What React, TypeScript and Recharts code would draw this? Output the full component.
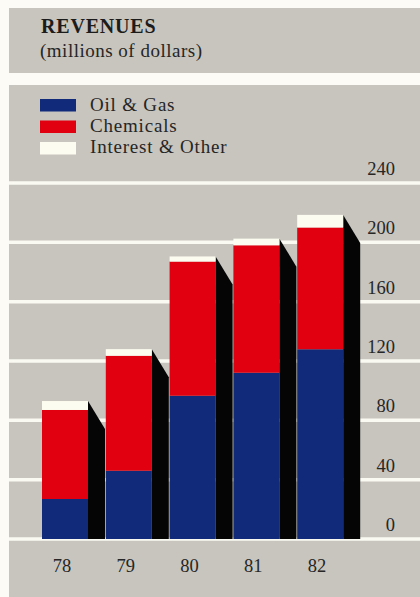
import { BarChart, Bar, XAxis, YAxis, CartesianGrid } from 'recharts'

const years = ['78', '79', '80', '81', '82']
const oilGas = [27, 46, 96.5, 112, 128]
const chemicals = [60, 77.5, 90.5, 86, 82]
const interestOther = [6, 4.5, 3.5, 4.5, 8.5]
const yTicks = [0, 40, 80, 120, 160, 200, 240]

const series = [
  { key: 'oil', name: 'Oil & Gas', color: '#112a7a' },
  { key: 'chem', name: 'Chemicals', color: '#e0000f' },
  { key: 'other', name: 'Interest & Other', color: '#fdfcf0' },
]

const data = years.map((year, i) => ({
  year,
  oil: oilGas[i],
  chem: chemicals[i],
  other: interestOther[i],
}))

const GRAY = '#c7c5be'
const PAPER = '#fcfbf5'
const INK = '#262626'
const SERIF = '"Liberation Serif", "Times New Roman", serif'

// top segment of the stack also draws the black "3D" side to its right
function CapWithShadow(props: any) {
  const { x, y, width, height, fill, background } = props
  const base = background ? background.y + background.height : y + height
  const depth = 17
  const drop = 28
  const r = x + width
  return (
    <g>
      <polygon
        points={`${r},${y} ${r + depth},${y + drop} ${r + depth},${base} ${r},${base}`}
        fill="#050505"
      />
      <rect x={x} y={y} width={width} height={height} fill={fill} />
    </g>
  )
}

function YTick({ x, y, payload }: any) {
  return (
    <text x={x} y={y} dx={-25} dy={-8} textAnchor="end" fontFamily={SERIF} fontSize={18.5} fill={INK}>
      {payload.value}
    </text>
  )
}

function XTick({ x, y, payload }: any) {
  return (
    <text x={x} y={y} dx={-3} dy={33} textAnchor="middle" fontFamily={SERIF} fontSize={18.5} fill={INK}>
      {payload.value}
    </text>
  )
}

export default function App() {
  return (
    <div style={{ position: 'absolute', left: 0, top: 0, width: 420, height: 597, background: PAPER, overflow: 'hidden' }}>
      <div style={{ position: 'absolute', left: 9, top: 8, width: 411, height: 65, background: GRAY }} />
      <div style={{ position: 'absolute', left: 9, top: 85, width: 411, height: 512, background: GRAY }} />

      <svg width={420} height={170} style={{ position: 'absolute', left: 0, top: 0 }}>
        <text x={41} y={33} fontFamily={SERIF} fontWeight="bold" fontSize={20} letterSpacing={0.8} fill="#1c1c1c">
          REVENUES
        </text>
        <text x={40} y={57} fontFamily={SERIF} fontSize={19} letterSpacing={0.5} fill={INK}>
          (millions of dollars)
        </text>
        {series.map((s, i) => (
          <g key={s.key}>
            <rect x={40} y={99 + i * 21.5} width={36} height={12.5} fill={s.color} />
            <text x={90} y={110.7 + i * 21.3} fontFamily={SERIF} fontSize={19} letterSpacing={0.8} fill={INK}>
              {s.name}
            </text>
          </g>
        ))}
      </svg>

      <div style={{ position: 'absolute', left: 0, top: 0 }}>
        <BarChart
          width={420}
          height={597}
          data={data}
          margin={{ top: 183, right: 0, bottom: 0, left: 9 }}
          barSize={46}
        >
          <CartesianGrid vertical={false} stroke="#fbfaf2" strokeWidth={3.5} />
          <XAxis
            dataKey="year"
            height={58}
            padding={{ left: 24, right: 68 }}
            axisLine={false}
            tickLine={false}
            tickSize={0}
            tickMargin={0}
            tick={<XTick />}
            interval={0}
          />
          <YAxis
            orientation="right"
            mirror
            domain={[0, 240]}
            ticks={yTicks}
            axisLine={false}
            tickLine={false}
            tickSize={0}
            tickMargin={0}
            tick={<YTick />}
          />
          <Bar dataKey="oil" stackId="a" fill={series[0].color} isAnimationActive={false} />
          <Bar dataKey="chem" stackId="a" fill={series[1].color} isAnimationActive={false} />
          <Bar
            dataKey="other"
            stackId="a"
            fill={series[2].color}
            shape={<CapWithShadow />}
            isAnimationActive={false}
          />
        </BarChart>
      </div>
    </div>
  )
}
